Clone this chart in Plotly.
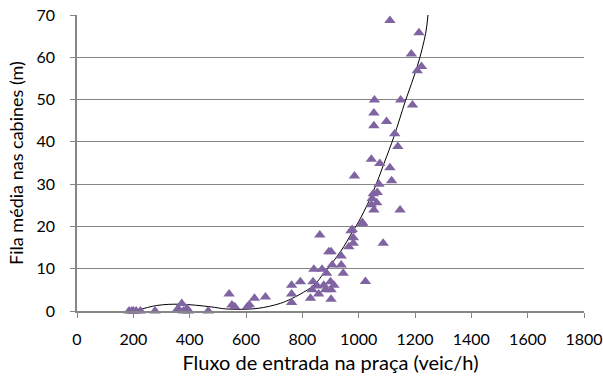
import plotly.graph_objects as go

# Observed points (flow veic/h, mean queue m)
flow = [185, 195, 200, 210, 225, 277,
        359, 372, 378, 390, 396, 466,
        540, 550, 560, 605, 612, 630, 669,
        762, 762, 762, 793, 829, 835, 838, 841, 853, 858, 862, 870, 876, 882, 886,
        894, 902, 900, 902, 902, 906, 912, 938, 938, 945, 965, 973, 981, 981,
        1013, 1024, 1087,
        977, 985, 1013, 1045, 1045, 1048, 1052, 1054, 1064, 1066, 1072, 1075,
        1111, 1117, 1128, 1139, 1147,
        1054, 1054, 1056, 1099, 1111, 1149, 1191, 1187, 1208, 1214, 1223]
queue = [0, 0, 0, 0, 0, 0,
         0.6, 1.8, 0, 0.6, 0, 0,
         4, 1.4, 1, 1, 1.5, 3, 3.3,
         6.1, 4, 2, 6.9, 3, 5, 6.9, 9.9, 5.9, 4, 18, 9.9, 6.1, 5, 8.9,
         14, 14, 6.9, 5, 2.8, 10.9, 6.1, 13, 10.9, 8.9, 15.2, 19, 17.3, 16,
         20.7, 7, 16,
         19.3, 31.9, 20.9, 25.1, 35.9, 26.6, 27.7, 23.9, 25.6, 28, 30, 34.9,
         33.9, 30.8, 41.9, 38.9, 23.9,
         43.8, 46.8, 49.9, 44.8, 68.7, 49.9, 48.7, 60.8, 56.8, 65.8, 57.8]

# Trend line
trend_x = [206, 283, 366, 473, 532, 639, 722, 758, 793, 841, 876, 935, 977,
           1007, 1054, 1090, 1125, 1167, 1208, 1238, 1246]
trend_y = [0, 1.3, 1.6, 1.0, 0.47, 0.6, 1.8, 2.8, 4, 6.1, 8.9, 14, 18.6,
           22, 28.6, 34.9, 41.2, 49.9, 57.8, 65.7, 70]

x_ticks = list(range(0, 1801, 200))
y_ticks = list(range(0, 71, 10))

axis_col = "#868686"
font_fam = "Lato, 'Open Sans', sans-serif"

fig = go.Figure()
fig.add_trace(go.Scatter(
    x=trend_x, y=trend_y, mode="lines", line=dict(color="black", width=1, shape="spline"),
    hoverinfo="skip", showlegend=False, cliponaxis=True))
fig.add_trace(go.Scatter(
    x=flow, y=queue, mode="markers",
    marker=dict(symbol="triangle-up", size=10, color="#8064A2"),
    showlegend=False, cliponaxis=False))

fig.update_layout(
    width=603, height=380,
    margin=dict(l=77, r=19, t=15, b=69, autoexpand=False),
    paper_bgcolor="white", plot_bgcolor="white",
    font=dict(family=font_fam, size=16, color="black"),
)
fig.update_xaxes(
    range=[0, 1800], tickvals=x_ticks, ticktext=[str(v) for v in x_ticks],
    showgrid=False, zeroline=False, showline=True, linecolor=axis_col, linewidth=1.5,
    ticks="outside", ticklen=5, tickcolor=axis_col, ticklabelstandoff=8, automargin=False,
    title=dict(text="Fluxo de entrada na praça (veic/h)", font=dict(size=20), standoff=9),
)
fig.update_yaxes(
    range=[0, 70], tickvals=y_ticks, ticktext=[str(v) for v in y_ticks],
    showgrid=True, gridcolor=axis_col, gridwidth=1,
    zeroline=False, showline=True, linecolor=axis_col, linewidth=1.5,
    ticks="outside", ticklen=5, tickcolor=axis_col, ticklabelstandoff=12, automargin=False,
    title=dict(text="Fila média nas cabines (m)", font=dict(size=18), standoff=8),
)

fig.write_html("out.html")
